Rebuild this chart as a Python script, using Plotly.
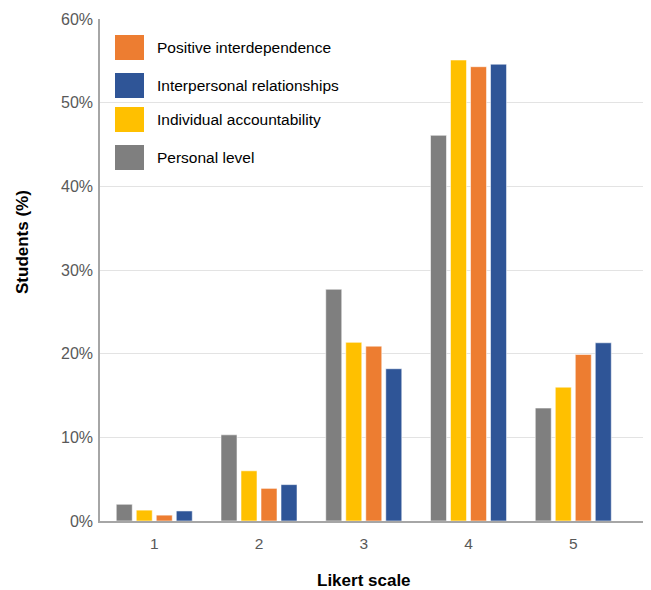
import plotly.graph_objects as go

categories = [1, 2, 3, 4, 5]
tick_labels = ["1", "2", "3", "4", "5"]
personal_level = [2.0, 10.3, 27.7, 46.1, 13.5]
individual_accountability = [1.3, 6.0, 21.35, 55.1, 16.0]
positive_interdependence = [0.7, 3.9, 20.9, 54.3, 19.9]
interpersonal_relationships = [1.2, 4.35, 18.2, 54.6, 21.3]

series = [
    ("Personal level", personal_level, "#7f7f7f"),
    ("Individual accountability", individual_accountability, "#ffc000"),
    ("Positive interdependence", positive_interdependence, "#ed7d31"),
    ("Interpersonal relationships", interpersonal_relationships, "#2f5597"),
]
legend_order = ["Positive interdependence", "Interpersonal relationships",
                "Individual accountability", "Personal level"]

FONT = "Liberation Sans, Arial, sans-serif"

# page offset caused by the default body margin
OFF = 8
W, H = 651 - OFF, 590 - OFF
L, R, T, B = 100 - OFF, 0, 19 - OFF, 69
PW, PH = W - L - R, H - T - B

def px_x(px):
    return (px - OFF - L) / PW

def px_y(py):
    return (H - B - (py - OFF)) / PH

fig = go.Figure()
for name, vals, col in series:
    fig.add_trace(go.Bar(
        x=categories, y=vals, name=name,
        marker=dict(color=col, line=dict(color="rgba(255,255,255,0.55)", width=1)),
        showlegend=False,
    ))

colors = {n: c for n, _, c in series}
centers = [47.5, 85.5, 119.5, 157.5]
shapes = []
annotations = []
for name, cy in zip(legend_order, centers):
    shapes.append(dict(type="rect", xref="paper", yref="paper",
                       x0=px_x(115), x1=px_x(144), y0=px_y(cy + 12.5), y1=px_y(cy - 12.5),
                       fillcolor=colors[name], line=dict(width=0)))
    annotations.append(dict(text=name, xref="paper", yref="paper",
                            x=px_x(155), y=px_y(cy), xanchor="left", yanchor="middle",
                            showarrow=False, font=dict(family=FONT, size=15.5, color="#000000")))

annotations.append(dict(text="<b>Students (%)</b>", xref="paper", yref="paper",
                        x=px_x(22), y=px_y(242), textangle=-90, showarrow=False,
                        xanchor="center", yanchor="middle",
                        font=dict(family=FONT, size=17, color="#000000")))
annotations.append(dict(text="<b>Likert scale</b>", xref="paper", yref="paper",
                        x=px_x(364), y=px_y(580), showarrow=False,
                        xanchor="center", yanchor="middle",
                        font=dict(family=FONT, size=17, color="#000000")))

fig.update_layout(
    width=W, height=H,
    margin=dict(l=L, r=R, t=T, b=B),
    paper_bgcolor="white", plot_bgcolor="white",
    barmode="group", bargap=0.236, bargroupgap=0.2,
    shapes=shapes, annotations=annotations,
    font=dict(family=FONT),
)
fig.update_xaxes(
    range=[0.482, 5.742], tickvals=categories, ticktext=tick_labels,
    showgrid=False, showline=True, linecolor="#a6a6a6", linewidth=1.5,
    ticks="", ticklabelstandoff=8,
    tickfont=dict(family=FONT, size=15.5, color="#595959"),
    zeroline=False,
)
fig.update_yaxes(
    range=[0, 60], dtick=10, ticksuffix="%",
    showgrid=True, gridcolor="#e3e3e3", gridwidth=1,
    showline=True, linecolor="#a6a6a6", linewidth=1.5,
    ticks="", ticklabelstandoff=2,
    tickfont=dict(family=FONT, size=16, color="#595959"),
    zeroline=False,
)
fig.write_html("out.html")
